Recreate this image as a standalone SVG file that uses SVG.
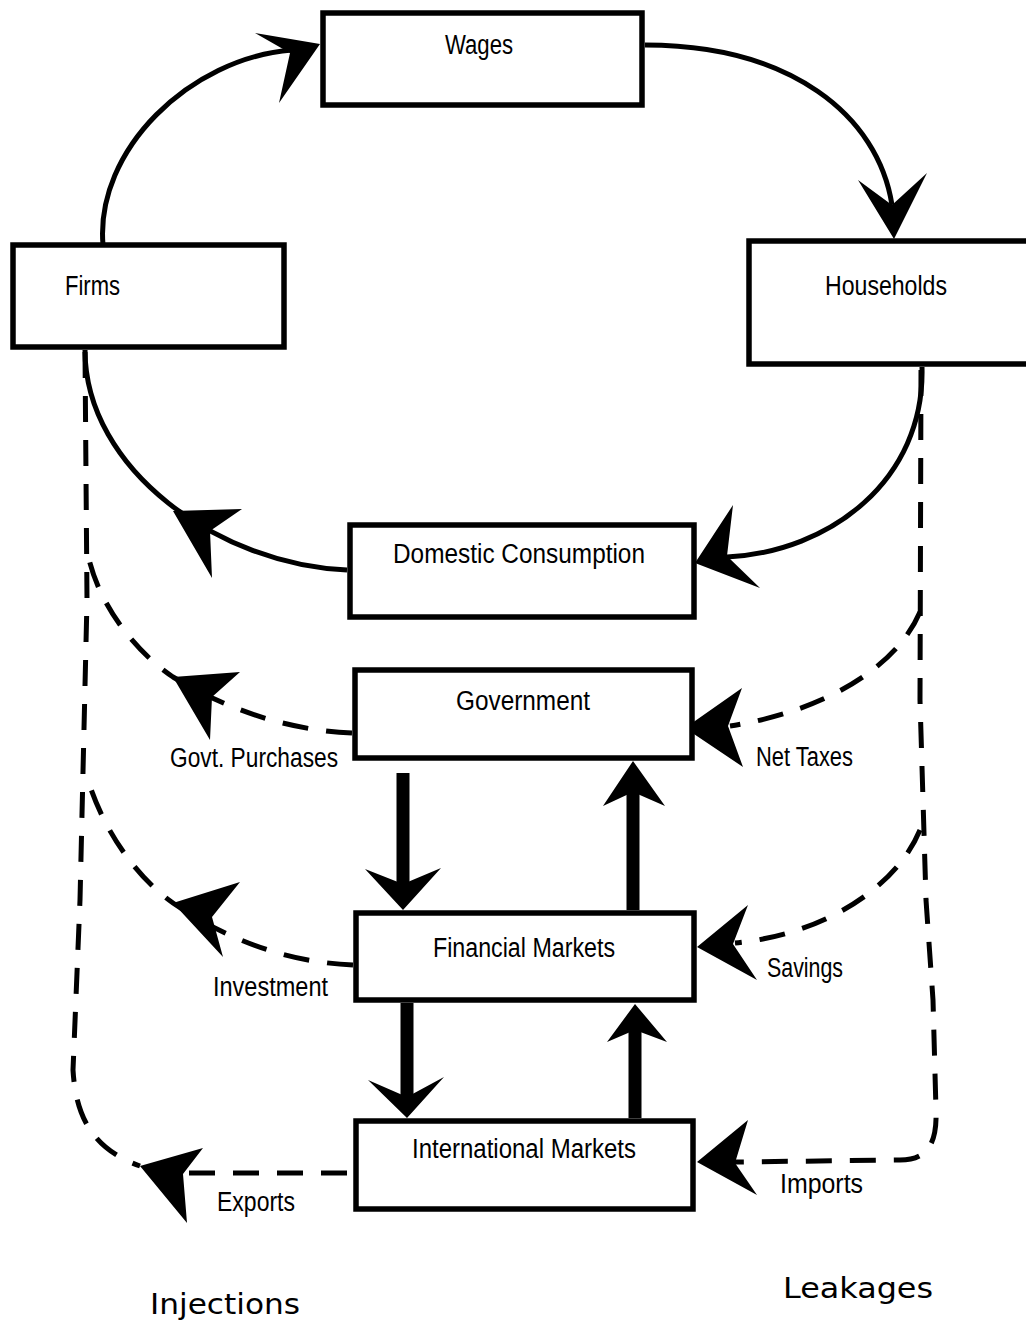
<svg xmlns="http://www.w3.org/2000/svg" width="1026" height="1327" viewBox="0 0 1026 1327">
<style>
.box{fill:#fff;stroke:#000;stroke-width:5.5}
.lbl{font-family:"Liberation Sans",Arial,sans-serif;font-size:27px;fill:#000}
.big{font-family:"DejaVu Sans","Liberation Sans",sans-serif;font-size:28px;fill:#000}
.solid{fill:none;stroke:#000;stroke-width:5}
.dash{fill:none;stroke:#000;stroke-width:5;stroke-dasharray:26 18}
.thick{fill:none;stroke:#000;stroke-width:13}
.head{fill:#000;stroke:none}
</style>
<rect width="1026" height="1327" fill="#fff"/>
<g id="connectors">
  <path class="solid" d="M103,245 C95,150 190,58 292,50"/>
  <polygon class="head" points="320,44 255,33 290,53 279,103"/>
  <path class="solid" d="M645,45 C790,45 878,115 892,205"/>
  <polygon class="head" points="894,239 858,180 892,205 927,173"/>
  <path class="solid" d="M922,367 C925,480 830,552 727,557"/>
  <polygon class="head" points="695,563 733,505 727,556 760,588"/>
  <path class="solid" d="M85,350 C85,470 220,565 347,570"/>
  <polygon class="head" points="173,511 242,509 210,531 212,578"/>
  <path class="dash" d="M85,352 L87,600 L80,900 L73,1070 C76,1120 95,1150 140,1166"/>
  <path class="dash" d="M347,1173 L183,1173"/>
  <polygon class="head" points="140,1166 203,1148 183,1174 187,1223"/>
  <path class="dash" d="M352,733 C280,730 220,705 173,677 C140,655 100,610 88,555"/>
  <polygon class="head" points="173,677 240,672 212,697 210,740"/>
  <path class="dash" d="M353,965 C280,962 220,935 173,903 C140,880 105,835 88,780"/>
  <polygon class="head" points="173,903 240,882 212,917 223,957"/>
  <path class="dash" d="M920,612 C895,670 820,712 730,726"/>
  <polygon class="head" points="685,728 742,688 728,726 743,767"/>
  <path class="dash" d="M920,830 C895,890 820,935 735,943"/>
  <polygon class="head" points="697,947 748,905 733,944 757,980"/>
  <path class="dash" d="M921,370 L920,700 L926,900 L933,1000 L936,1110 C937,1140 930,1160 900,1160 L735,1162"/>
  <polygon class="head" points="697,1162 748,1120 735,1163 757,1195"/>
  <path class="thick" d="M403,773 L403,886"/>
  <polygon class="head" points="403,910 365,869 403,884 441,868"/>
  <path class="thick" d="M633,910 L633,790"/>
  <polygon class="head" points="633,761 603,806 633,792 665,806"/>
  <path class="thick" d="M407,1003 L407,1098"/>
  <polygon class="head" points="407,1118 368,1080 407,1097 444,1077"/>
  <path class="thick" d="M635,1118 L635,1030"/>
  <polygon class="head" points="635,1004 607,1042 635,1030 667,1042"/>
</g>
<g id="wages"><rect class="box" x="323" y="13" width="319" height="92"/><text class="lbl" x="445" y="54" textLength="68" lengthAdjust="spacingAndGlyphs">Wages</text></g>
<g id="firms"><rect class="box" x="13" y="245" width="271" height="102"/><text class="lbl" x="65" y="295" textLength="55" lengthAdjust="spacingAndGlyphs">Firms</text></g>
<g id="households"><rect class="box" x="749" y="241" width="290" height="123"/><text class="lbl" x="825" y="295" textLength="122" lengthAdjust="spacingAndGlyphs">Households</text></g>
<g id="domestic"><rect class="box" x="350" y="525" width="344" height="92"/><text class="lbl" x="393" y="563" textLength="252" lengthAdjust="spacingAndGlyphs">Domestic Consumption</text></g>
<g id="government"><rect class="box" x="355" y="670" width="337" height="88"/><text class="lbl" x="456" y="710" textLength="134" lengthAdjust="spacingAndGlyphs">Government</text></g>
<g id="financial"><rect class="box" x="356" y="913" width="338" height="87"/><text class="lbl" x="433" y="957" textLength="182" lengthAdjust="spacingAndGlyphs">Financial Markets</text></g>
<g id="international"><rect class="box" x="356" y="1121" width="337" height="88"/><text class="lbl" x="412" y="1158" textLength="224" lengthAdjust="spacingAndGlyphs">International Markets</text></g>
<g id="labels">
  <text class="lbl" x="170" y="767" textLength="168" lengthAdjust="spacingAndGlyphs">Govt. Purchases</text>
  <text class="lbl" x="756" y="766" textLength="97" lengthAdjust="spacingAndGlyphs">Net Taxes</text>
  <text class="lbl" x="213" y="996" textLength="115" lengthAdjust="spacingAndGlyphs">Investment</text>
  <text class="lbl" x="767" y="977" textLength="76" lengthAdjust="spacingAndGlyphs">Savings</text>
  <text class="lbl" x="217" y="1211" textLength="78" lengthAdjust="spacingAndGlyphs">Exports</text>
  <text class="lbl" x="780" y="1193" textLength="83" lengthAdjust="spacingAndGlyphs">Imports</text>
  <text class="big" x="150" y="1314" textLength="150" lengthAdjust="spacingAndGlyphs">Injections</text>
  <text class="big" x="783" y="1298" textLength="150" lengthAdjust="spacingAndGlyphs">Leakages</text>
</g>
</svg>
